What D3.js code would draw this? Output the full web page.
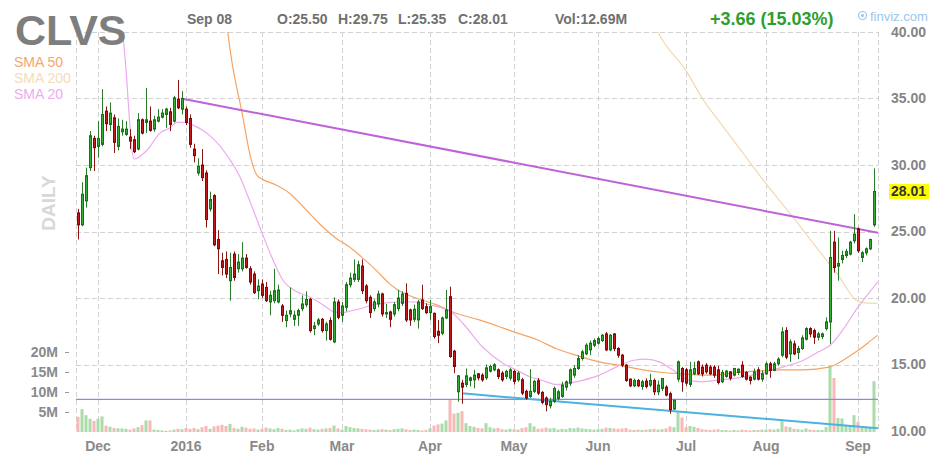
<!DOCTYPE html>
<html><head><meta charset="utf-8">
<script src="https://cdn.jsdelivr.net/npm/d3@7"></script>
<style>html,body{margin:0;padding:0;background:#fff;}svg{display:block;font-family:"Liberation Sans",Arial,sans-serif;}</style>
</head><body><svg id="c" width="948" height="464"></svg>
<script>
// ---------- DATA ----------
const ticker = "CLVS";
const quoteDate = "Sep 08";
const quoteTexts = ["O:25.50", "H:29.75", "L:25.35", "C:28.01", "Vol:12.69M"];
const changeText = "+3.66 (15.03%)";
const lastPrice = 28.01;
const holidays = ["2015-11-26","2015-12-25","2016-01-01","2016-01-18","2016-02-15","2016-03-25","2016-05-30","2016-07-04","2016-09-05"];
const monthLabels = ["Dec","2016","Feb","Mar","Apr","May","Jun","Jul","Aug","Sep"];
const priceTicks = [10,15,20,25,30,35,40];
const volumeTicks = [5,10,15,20];
const legendItems = ["SMA 50","SMA 200","SMA 20"];

const open = [26.4,25.5,27.3,29.8,32.0, 31.4,31.55,34.05,33.05,33.55, 31.4,32.5,32.3,32.1,31.9, 31.2,33.4,33.2,33.3,32.7, 33.3,33.6,33.8,34.0,33.3, 34.95,34.2,34.2,33.5,31.2, 29.4,30.0,29.4,26.7,27.7, 24.4,22.8,22.9,21.3,23.3,
 22.2,22.2,23.0,22.2,21.8, 20.55,21.05,20.8,19.7,19.8, 19.7,19.4,18.3,18.8,18.4, 18.7,19.2,19.5,19.9,17.7, 18.05,18.4,17.55,18.3,16.7, 19.7,18.7,19.3,21.0,21.4, 21.4,22.4,20.9,20.05,19.2, 19.55,20.3,18.8,18.95,18.8,
 19.2,19.6,20.35,19.1,18.4, 18.35,19.85,19.35,18.9,18.85, 17.5,17.35,18.5,20.1,16.0, 12.95,13.6,13.5,13.8,13.85, 14.3,14.2,14.0,14.5,14.6, 14.6,14.35,14.1,13.98,14.48, 13.85,13.85,12.98,12.6,12.98, 13.78,12.9,12.48,11.9,12.23,
 12.45,12.6,13.3,13.6,14.2, 14.7,15.45,15.8,16.1,16.45, 16.6,16.8,17.3,16.1,17.3, 16.2,15.7,14.95,13.9,13.4, 13.8,13.35,13.75,13.45,13.8, 12.95,13.2,13.3,12.8,11.65, 13.9,14.7,14.6,13.5,14.3, 15.2,14.8,14.95,14.8,14.8,
 14.6,13.7,14.1,14.45,14.2, 14.4,14.95,14.4,14.05,13.9, 14.6,13.9,14.3,15.05,14.55, 15.05,15.7,17.55,15.8,16.55, 15.9,16.2,16.9,17.7,17.55, 17.05,17.1,17.7,18.2,24.2, 22.4,22.9,23.2,23.3,24.3, 25.2,23.05,23.4,23.7,25.5];
const high = [26.7,28.7,29.8,32.55,32.2, 33.3,35.7,34.4,34.7,33.8, 33.5,33.4,33.3,32.7,32.2, 33.9,33.5,35.8,34.4,33.7, 34.2,34.2,34.3,34.3,35.2, 36.4,35.55,34.4,33.8,31.6, 30.5,31.2,29.6,28.0,27.8, 25.1,23.4,23.5,23.4,23.5,
 23.3,24.2,23.3,22.4,22.0, 21.4,21.4,21.2,20.55,22.2, 21.0,19.55,19.05,20.8,19.05, 19.2,20.2,20.5,20.0,18.2, 18.5,18.5,18.2,18.55,20.05, 19.9,19.7,21.2,21.9,22.9, 22.8,22.9,21.05,20.2,19.9, 20.55,20.4,19.55,19.05,19.7,
 20.6,20.5,21.1,19.2,19.5, 19.85,21.0,19.6,19.85,18.9, 18.35,18.6,20.6,20.85,16.1, 14.2,13.85,14.7,14.1,14.6, 14.35,14.35,15.0,15.0,15.1, 14.7,14.5,14.6,14.73,14.6, 14.5,14.0,13.1,14.65,13.85, 13.98,13.0,12.6,12.5,13.35,
 13.1,13.7,13.8,14.7,14.95, 15.7,16.1,16.6,16.8,16.95, 17.1,17.3,17.45,17.3,17.35, 16.3,15.8,15.05,13.95,13.95, 13.9,13.85,13.95,14.3,13.95, 13.8,13.95,13.45,12.95,12.4, 15.3,14.8,14.75,15.2,15.2, 15.3,15.0,15.1,14.95,14.95,
 14.9,14.6,14.6,14.5,14.75, 14.7,15.25,14.5,14.1,14.7, 14.8,14.55,15.2,15.2,15.2, 15.55,17.8,17.8,16.9,16.8, 16.4,17.2,17.8,17.8,17.7, 17.45,17.4,18.55,25.05,25.05, 24.55,23.55,23.7,24.3,26.3, 25.3,23.55,23.8,24.45,29.75];
const low = [24.4,25.4,26.8,29.55,29.55, 30.55,31.4,32.55,32.55,30.9, 31.1,32.2,32.2,31.2,30.9, 31.1,32.3,32.4,32.5,32.5, 33.2,33.5,32.8,32.55,33.2, 34.2,33.8,33.0,31.3,30.2, 29.2,28.8,25.3,26.5,23.9, 21.8,21.7,21.5,19.8,21.3,
 21.9,22.0,22.2,21.0,20.3, 19.9,20.0,19.7,18.7,19.6, 19.6,18.2,17.8,18.55,17.9, 17.9,19.0,19.3,17.4,17.2, 17.9,17.4,16.8,16.8,16.6, 18.4,18.2,19.0,20.8,21.2, 21.2,20.3,19.6,18.5,19.0, 19.3,18.6,18.5,17.8,18.6,
 19.0,19.4,18.2,17.9,18.2, 17.7,19.1,18.8,18.35,16.95, 16.6,17.2,18.4,15.5,14.35, 12.2,12.05,13.3,13.35,13.2, 13.8,13.7,13.85,14.4,14.5, 13.9,13.7,13.9,13.8,13.5, 13.7,12.7,12.35,12.5,12.85, 12.7,12.0,11.48,11.7,12.1,
 12.3,12.5,13.05,13.4,14.0, 14.6,15.3,15.7,15.7,16.3, 16.5,16.7,16.0,16.0,16.0, 15.5,14.8,13.7,13.3,13.3, 13.3,13.1,13.2,13.3,12.7, 12.7,13.0,12.6,11.3,11.6, 13.7,12.95,13.4,13.3,14.2, 14.2,14.1,14.3,14.2,14.0,
 13.5,13.6,14.0,13.8,14.1, 14.2,14.0,13.8,13.5,13.8, 13.8,13.7,14.2,14.0,14.5, 14.9,15.55,15.4,15.2,15.7, 15.4,16.1,16.8,17.05,16.55, 16.8,16.9,17.55,16.55,21.9, 21.3,22.6,23.0,23.2,24.1, 23.4,22.7,23.2,23.6,25.35];
const close = [25.5,27.8,29.2,32.2,31.3, 32.0,33.8,33.1,33.9,31.7, 32.9,32.7,32.7,31.8,31.0, 33.4,32.4,33.4,32.6,33.4, 33.6,33.9,34.2,33.05,35.05, 34.3,35.0,33.2,31.55,30.7, 29.9,29.05,25.9,27.4,24.0, 23.7,22.3,21.8,22.3,21.55,
 22.7,23.0,22.3,21.2,20.4, 20.9,20.2,19.8,20.2,20.55, 20.6,18.7,18.7,19.05,18.7, 19.05,19.55,19.9,17.55,17.9, 18.35,17.55,18.05,16.9,19.7, 18.55,19.4,21.0,21.5,21.8, 22.5,20.55,19.8,18.9,19.7, 20.3,18.8,18.9,18.4,19.5,
 20.0,20.3,18.35,18.35,19.15, 19.7,19.2,18.9,19.35,17.1, 17.2,18.5,19.1,15.6,14.85, 14.15,13.3,14.15,14.0,14.2, 14.0,13.85,14.75,14.85,14.98, 14.1,13.85,14.48,14.6,13.73, 14.35,12.85,12.48,12.98,13.73, 12.85,12.15,11.98,12.23,13.2,
 12.95,13.45,13.7,14.6,14.7, 15.45,15.95,16.45,16.6,16.8, 16.95,17.2,16.1,17.2,16.2, 15.7,14.95,13.8,13.4,13.8, 13.4,13.7,13.35,13.8,12.95, 13.45,13.95,12.7,11.6,12.3, 15.2,13.7,13.6,14.6,14.7, 14.3,14.3,14.45,14.3,14.2,
 13.65,14.4,14.5,13.97,14.7, 14.65,14.1,13.9,13.8,14.45, 13.9,14.3,15.05,14.55,15.05, 15.4,17.45,15.55,16.7,15.8, 16.2,17.0,17.7,17.3,17.05, 17.3,17.3,18.2,23.05,22.3, 22.6,23.2,23.5,24.2,24.8, 23.55,23.4,23.7,24.4,28.01];
const volume = [3.8,5.7,4.2,3.3,2.8, 3.3,3.9,1.6,1.3,1.0, 0.9,0.9,0.8,0.6,0.9, 1.2,1.7,2.9,2.9,0.6, 0.5,0.4,0.3,0.4,0.6, 0.8,0.7,1.0,0.8,1.0, 0.7,1.2,1.5,0.8,1.4, 1.6,1.8,1.5,2.0,1.0,
 0.8,1.3,1.1,0.8,0.9, 0.6,0.8,1.1,0.9,0.7, 1.0,0.8,0.5,0.6,0.4, 0.7,0.9,0.8,1.1,0.7, 0.6,0.8,0.9,1.0,1.6, 0.9,0.6,1.5,1.2,1.0, 0.9,0.8,0.7,0.6,0.5, 0.6,0.7,0.6,0.5,0.7,
 0.8,0.9,0.7,0.5,0.6, 0.5,0.4,0.5,0.9,1.6, 1.9,2.1,2.9,8.0,4.6, 4.8,5.2,2.2,1.5,1.3, 1.0,0.9,2.2,1.2,0.9, 1.0,0.7,0.6,0.8,0.7, 0.6,1.0,1.2,2.2,1.4, 0.8,0.9,1.1,0.9,1.0,
 0.6,0.8,0.7,1.0,0.9, 1.1,0.9,0.8,0.7,0.6, 0.7,0.8,1.1,1.0,0.9, 0.8,0.9,1.0,0.6,0.5, 0.6,0.5,0.6,0.7,0.8, 0.6,0.7,0.9,1.4,1.2, 5.0,3.6,1.2,1.5,1.3, 1.0,0.7,0.6,0.5,0.6,
 0.7,0.5,0.5,0.4,0.5, 0.4,0.6,0.5,0.4,0.5, 0.5,0.6,0.6,0.7,0.6, 0.8,2.7,1.4,1.2,0.8, 0.7,0.6,0.9,0.6,0.5, 0.5,0.5,1.2,16.6,13.5, 3.5,3.4,1.8,1.5,4.2, 2.6,1.5,1.0,1.1,12.69];

// moving averages: [trading-day index, value]
const sma20 = [[10.5,42.3],[11.8,37.9],[14,30.45],[17.2,31.1],[20.5,32.4],[23,32.8],[24.7,33.2],[26.75,33.2],[28.75,33.0],[31.25,32.6],[33.75,32.0],[37.2,30.75],[40.5,29.1],[42.8,27.4],[46,24.9],[48.7,22.9],[51.2,21.35],[54.5,20.5],[57.8,20.1],[61.2,19.5],[63.7,19.0],[66.2,18.9],[67.8,19.0],[71.2,19.25],[73.7,19.5],[76.2,19.6],[79.5,19.7],[84,19.7],[87.8,19.5],[93.7,18.85],[96.2,18.1],[101.2,16.3],[106.2,15.1],[109.5,14.6],[112.8,14.1],[116.2,13.8],[119.5,13.5],[124.5,13.7],[130.3,14.2],[134.5,14.8],[138.7,15.3],[142,15.4],[145.3,15.2],[148.7,14.6],[152.8,13.8],[156.2,13.7],[159.5,13.8],[165,14.0],[172,14.45],[176.2,14.8],[181.2,15.3],[184.5,15.85],[188.25,16.5],[191.2,17.6],[194.5,19.1],[197,20.1],[199.9,21.2]];
const sma50 = [[37.0,41.0],[38.4,37.9],[40.9,34.1],[43.3,30.4],[44.8,29.2],[46.3,28.9],[49.5,28.5],[52.8,27.9],[56.2,26.9],[60.3,25.6],[64.5,24.5],[67.8,23.85],[71.2,23.0],[74.5,22.1],[77.8,21.1],[79.5,20.7],[84.5,20.0],[89.5,19.5],[94.5,18.85],[100.3,18.35],[106.2,17.75],[109.5,17.4],[114.5,16.9],[119.5,16.2],[124.5,15.7],[130.3,15.2],[136.2,14.9],[141.2,14.6],[146.2,14.4],[151.2,14.3],[156.2,14.2],[159.5,14.2],[164.5,14.4],[172,14.55],[176.2,14.6],[181.2,14.6],[187.8,14.8],[191.2,15.3],[194.5,15.95],[197.8,16.7],[199.9,17.2]];
const sma200 = [[143.5,41.0],[145,40.0],[152.2,37.0],[156.3,34.9],[160,33.4],[165.75,31.1],[172,28.6],[178.7,26.1],[184.5,23.85],[190.3,21.6],[194.5,19.85],[196.2,19.65],[199.9,19.6]];
const resistanceLine = [[25.8,35.0],[200,24.9]];
const supportLine = [[96,12.83],[200,10.2]];
const horizontalLevel = 12.38;

// ---------- CHART ----------
const svg = d3.select("#c");
const fmtDay = d3.timeFormat("%Y-%m-%d");
const days = d3.timeDay.range(new Date(2015,10,23), new Date(2016,8,9))
  .filter(d => d.getDay() !== 0 && d.getDay() !== 6 && !holidays.includes(fmtDay(d)));
const keys = days.map(fmtDay);
const L = 76, R = 878, T = 32, B = 431;
const x = d3.scaleBand().domain(keys).range([76, 876]);
const bw = x.bandwidth();
const xi = d3.scaleLinear().domain([0, keys.length - 1]).range([x(keys[0]) + bw/2, x(keys[keys.length-1]) + bw/2]);
const y = d3.scaleLinear().domain([10, 40]).range([B, T]);
const yv = d3.scaleLinear().domain([0, 25]).range([432, 332]);
const monthStarts = keys.filter((k, i) => i > 0 && k.slice(5,7) !== keys[i-1].slice(5,7));

const grid = svg.append("g").attr("stroke", "#d2d2d2").attr("stroke-dasharray", "5,3").attr("stroke-width", 1);
priceTicks.filter(v => v > 10).forEach(v => {
  const yy = Math.round(y(v)) + 0.5;
  grid.append("line").attr("x1", L).attr("x2", R).attr("y1", yy).attr("y2", yy);
});
monthStarts.forEach(k => {
  const xx = Math.round(x(k) + bw/2) + 0.5;
  grid.append("line").attr("x1", xx).attr("x2", xx).attr("y1", T).attr("y2", B);
});
[L + 0.5, R + 0.5].forEach(xx => grid.append("line").attr("x1", xx).attr("x2", xx).attr("y1", T).attr("y2", B));

const up = i => close[i] >= open[i];

// volume
svg.append("g").selectAll("rect").data(keys).join("rect")
  .attr("x", (k) => x(k) + 0.5)
  .attr("width", 3)
  .attr("y", (k, i) => yv(volume[i]))
  .attr("height", (k, i) => yv(0) - yv(volume[i]))
  .attr("fill", (k, i) => up(i) ? "#a9dca9" : "#f9b8b8");

const clip = svg.append("clipPath").attr("id", "pc").append("rect").attr("x", L).attr("y", T).attr("width", R - L).attr("height", B - T);
const lineGen = d3.line().x(d => xi(d[0])).y(d => y(d[1])).curve(d3.curveMonotoneX);
const lines = svg.append("g").attr("clip-path", "url(#pc)").attr("fill", "none");
lines.append("path").attr("d", lineGen(sma200)).attr("stroke", "#f2d9b0").attr("stroke-width", 1.2);
lines.append("path").attr("d", lineGen(sma50)).attr("stroke", "#f6a462").attr("stroke-width", 1.2);
lines.append("path").attr("d", lineGen(sma20)).attr("stroke", "#eeaaee").attr("stroke-width", 1.2);
lines.append("line").attr("x1", L).attr("x2", R).attr("y1", y(horizontalLevel)).attr("y2", y(horizontalLevel)).attr("stroke", "#8b8be3").attr("stroke-width", 1.3);
const straight = d3.line().x(d => xi(d[0])).y(d => y(d[1]));
lines.append("path").attr("d", straight(supportLine)).attr("stroke", "#4cb2e2").attr("stroke-width", 2);
lines.append("path").attr("d", straight(resistanceLine)).attr("stroke", "#bd62d8").attr("stroke-width", 2);

// candles
const cg = svg.append("g");
keys.forEach((k, i) => {
  const xc = Math.round(x(k) + bw/2);
  const g = up(i);
  cg.append("line").attr("x1", xc + 0.5).attr("x2", xc + 0.5)
    .attr("y1", y(high[i])).attr("y2", y(low[i]))
    .attr("stroke", g ? "#2a7a2a" : "#8a1414").attr("stroke-width", 1);
  const yt = y(Math.max(open[i], close[i])), yb = y(Math.min(open[i], close[i]));
  cg.append("rect").attr("x", xc - 0.5).attr("width", 2)
    .attr("y", yt).attr("height", Math.max(1, yb - yt))
    .attr("fill", g ? "#33b033" : "#c41a1a")
    .attr("stroke", g ? "#1e6b1e" : "#7a0b0b").attr("stroke-width", 1);
});

// axes
const axR = svg.append("g").attr("transform", `translate(${R},0)`)
  .call(d3.axisRight(y).tickValues(priceTicks).tickFormat(d3.format(".2f")).tickSize(0).tickPadding(13));
axR.select(".domain").remove();
axR.selectAll("text").attr("font-family", "Liberation Sans, Arial, sans-serif").attr("font-size", 14).attr("font-weight", "bold").attr("fill", "#858585");

const axB = svg.append("g").attr("transform", `translate(0,${B})`)
  .call(d3.axisBottom(x).tickValues(monthStarts).tickFormat((d, i) => monthLabels[i]).tickSize(0).tickPadding(10));
axB.select(".domain").remove();
axB.selectAll("text").attr("font-family", "Liberation Sans, Arial, sans-serif").attr("font-size", 14).attr("font-weight", "bold").attr("fill", "#8a8a8a");

const axV = svg.append("g").attr("transform", "translate(69,0)")
  .call(d3.axisLeft(yv).tickValues(volumeTicks).tickFormat(d => d + "M").tickSize(4).tickPadding(7));
axV.select(".domain").remove();
axV.selectAll("line").attr("stroke", "#999");
axV.selectAll("text").attr("font-family", "Liberation Sans, Arial, sans-serif").attr("font-size", 14).attr("font-weight", "bold").attr("fill", "#8a8a8a");

// last price tag
svg.append("rect").attr("x", 889).attr("y", y(lastPrice) - 7.5).attr("width", 40).attr("height", 15).attr("fill", "#ffff00");
svg.append("text").attr("x", 891).attr("y", y(lastPrice) + 5).attr("font-size", 14).attr("font-weight", "bold").attr("fill", "#333").text(d3.format(".2f")(lastPrice));

// header
svg.append("text").attr("x", 15).attr("y", 44.5).attr("font-size", 43).attr("font-weight", "bold").attr("fill", "#7e7e7e").text(ticker);
svg.append("text").attr("x", 187).attr("y", 23.5).attr("font-size", 14).attr("font-weight", "bold").attr("fill", "#707070").text(quoteDate);
const qx = [277, 338, 398, 458, 555];
quoteTexts.forEach((t, i) => svg.append("text").attr("x", qx[i]).attr("y", 23.5).attr("font-size", 14).attr("font-weight", "bold").attr("fill", "#707070").text(t));
svg.append("text").attr("x", 710).attr("y", 25).attr("font-size", 18).attr("font-weight", "bold").attr("fill", "#2e9e2e").text(changeText);
svg.append("circle").attr("cx", 862.5).attr("cy", 15.5).attr("r", 4).attr("fill", "none").attr("stroke", "#9cc5ea").attr("stroke-width", 1.2);
svg.append("circle").attr("cx", 862.5).attr("cy", 15.5).attr("r", 1.5).attr("fill", "#9cc5ea");
svg.append("text").attr("x", 870).attr("y", 20.5).attr("font-size", 13).attr("fill", "#9cc5ea").text("finviz.com");

// legend
const legendColors = ["#f8a66c", "#f3dcb8", "#f1aaee"];
legendItems.forEach((t, i) => svg.append("text").attr("x", 14).attr("y", 66.5 + i * 16).attr("font-size", 14).attr("fill", legendColors[i]).text(t));

svg.append("text").attr("transform", "translate(55,203) rotate(-90)").attr("text-anchor", "middle")
  .attr("font-size", 19).attr("font-weight", "bold").attr("fill", "#d8d8d8").text("DAILY");
</script></body></html>
